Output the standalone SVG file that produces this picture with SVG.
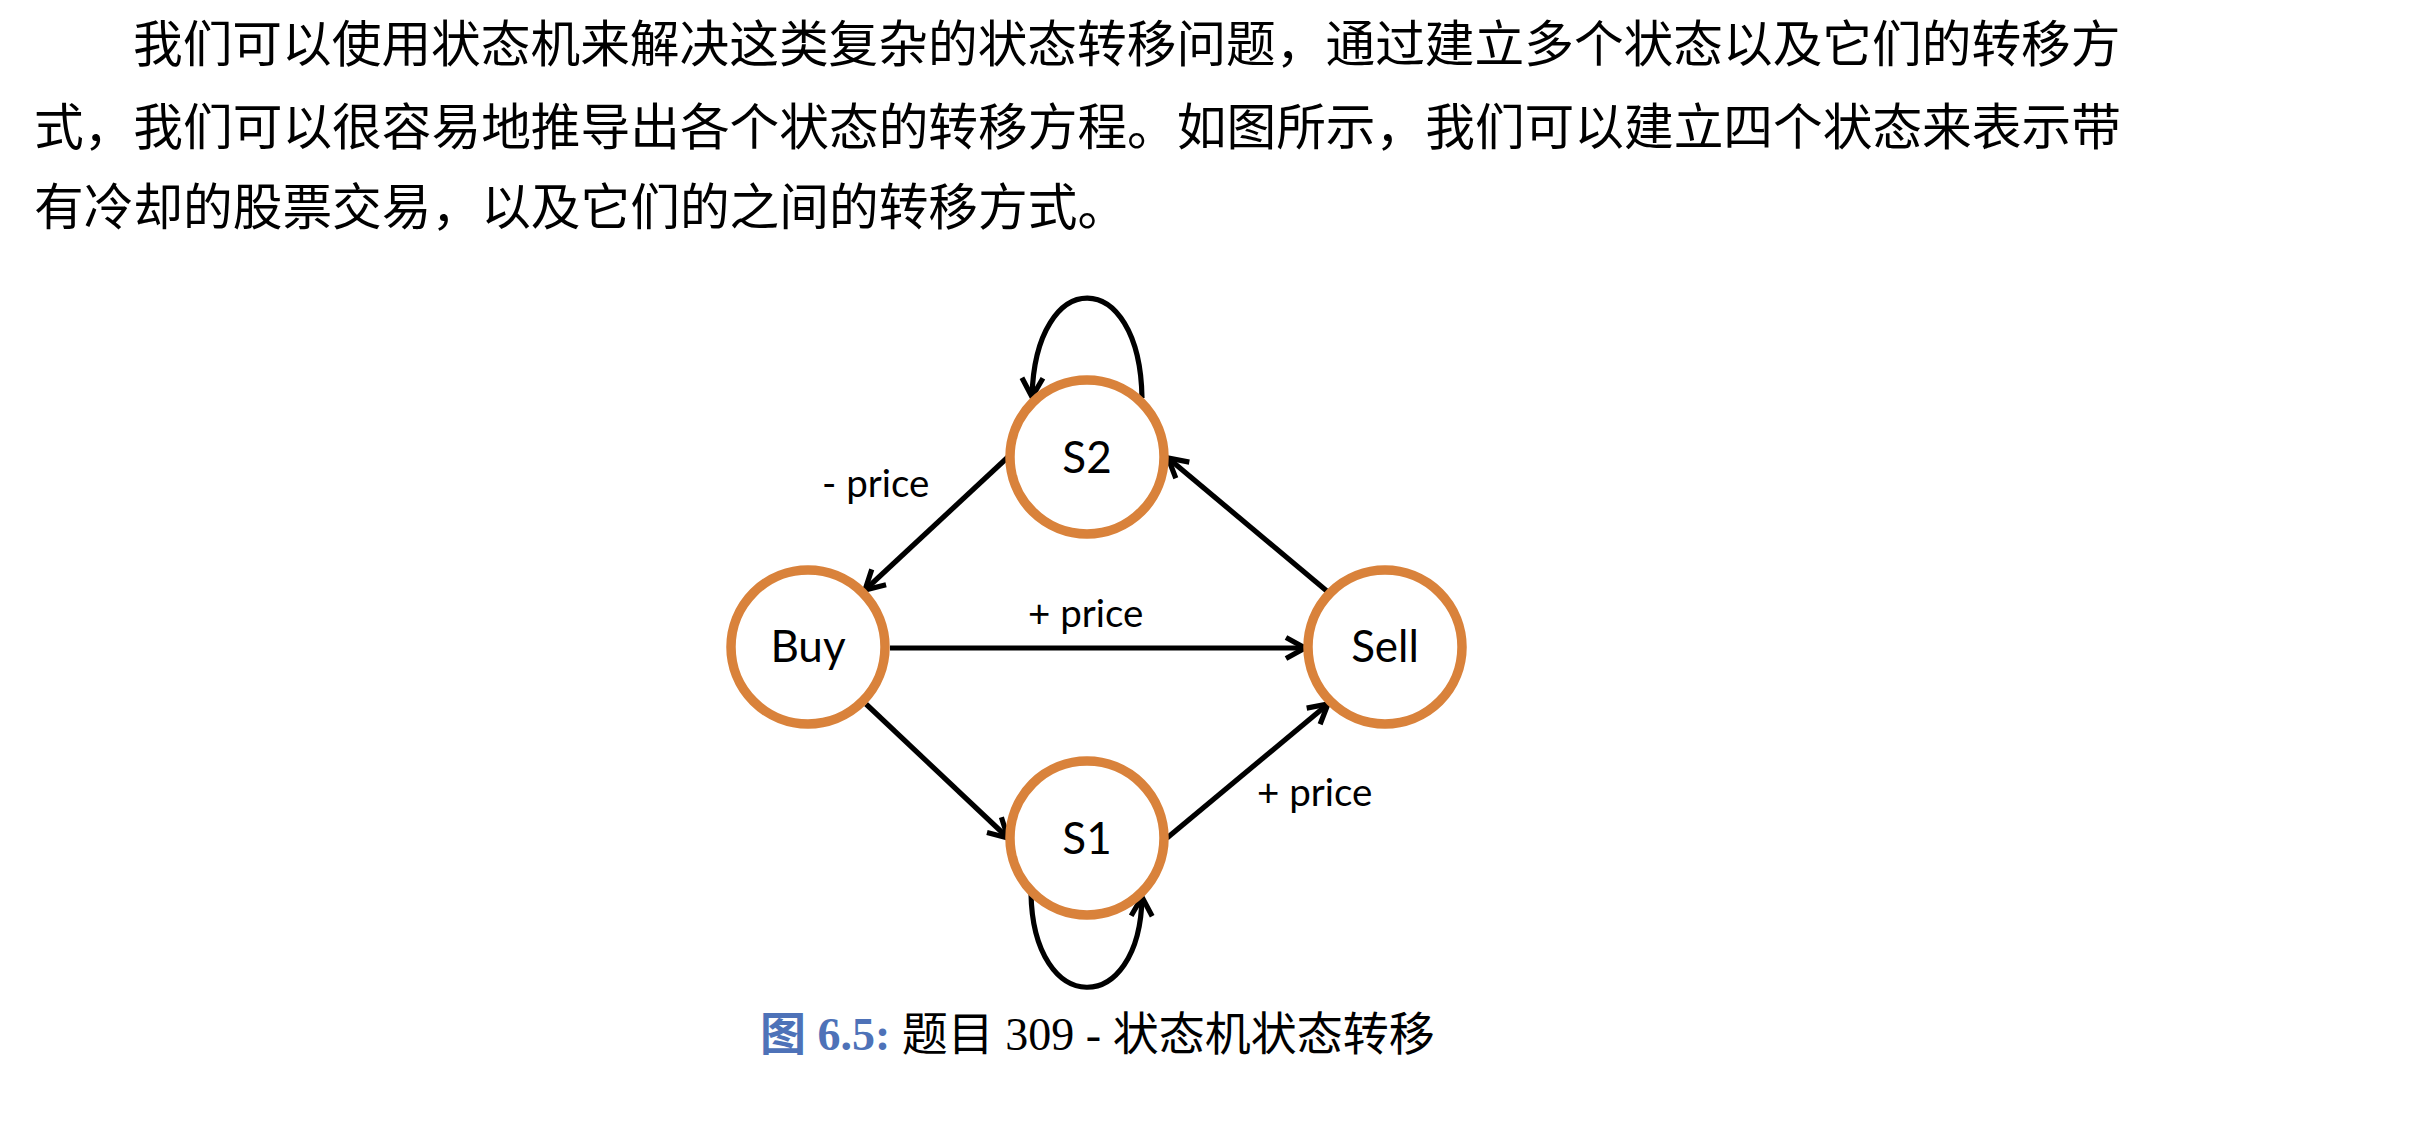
<svg xmlns="http://www.w3.org/2000/svg" width="2410" height="1146" viewBox="0 0 2410 1146">
<defs>
<style>
.para{font-family:"Noto Sans CJK SC","Noto Sans",sans-serif;font-size:49.7px;fill:#000}
.node{fill:#fff;stroke:#D9823B;stroke-width:9.5}
.nlabel{font-family:Lato,"Open Sans",sans-serif;font-size:44px;fill:#000;text-anchor:middle}
.elabel{font-family:Lato,"Open Sans",sans-serif;font-size:38.5px;fill:#000}
.edge{fill:none;stroke:#000;stroke-width:5.2;marker-end:url(#arr)}
.cap{font-family:"Liberation Serif","Noto Sans CJK SC",serif;font-size:46px;fill:#000}
.capb{fill:#4E72B8;font-weight:bold}
</style>
<marker id="arr" markerUnits="userSpaceOnUse" markerWidth="28" markerHeight="28" viewBox="0 0 28 28" refX="23" refY="14" orient="auto">
<path d="M4,3.5 L23,14 L4,24.5" fill="none" stroke="#000" stroke-width="5.2" stroke-linejoin="miter"/>
</marker>
</defs>
<rect width="2410" height="1146" fill="#fff"/>
<g id="paragraph">
<text class="para" x="133" y="62">我们可以使用状态机来解决这类复杂的状态转移问题，通过建立多个状态以及它们的转移方</text>
<text class="para" x="34" y="145">式，我们可以很容易地推导出各个状态的转移方程。如图所示，我们可以建立四个状态来表示带</text>
<text class="para" x="34" y="225">有冷却的股票交易，以及它们的之间的转移方式。</text>
</g>
<g id="connectors">
<path class="edge" d="M1008,457 L865,590"/>
<path class="edge" d="M1328,592 L1168,458"/>
<path class="edge" d="M890,648 L1305,648"/>
<path class="edge" d="M866,704 L1008,838"/>
<path class="edge" d="M1167,838 L1328,704"/>
<path class="edge" d="M1142,398 C1140,265 1035,265 1032,397"/>
<path class="edge" d="M1031,893 C1033,1018 1140,1018 1142,897"/>
<text class="elabel" x="822" y="497">- price</text>
<text class="elabel" x="1028" y="627">+ price</text>
<text class="elabel" x="1257" y="806">+ price</text>
</g>
<g id="node-S2">
<circle class="node" cx="1087" cy="457" r="77"/>
<text class="nlabel" x="1087" y="473">S2</text>
</g>
<g id="node-Buy">
<circle class="node" cx="808" cy="647" r="77"/>
<text class="nlabel" x="808" y="662">Buy</text>
</g>
<g id="node-Sell">
<circle class="node" cx="1385" cy="647" r="77"/>
<text class="nlabel" x="1385" y="662">Sell</text>
</g>
<g id="node-S1">
<circle class="node" cx="1087" cy="838" r="77"/>
<text class="nlabel" x="1087" y="854">S1</text>
</g>
<g id="caption">
<text class="cap" x="760" y="1050"><tspan class="capb">图 6.5:</tspan> 题目 309 - 状态机状态转移</text>
</g>
</svg>
